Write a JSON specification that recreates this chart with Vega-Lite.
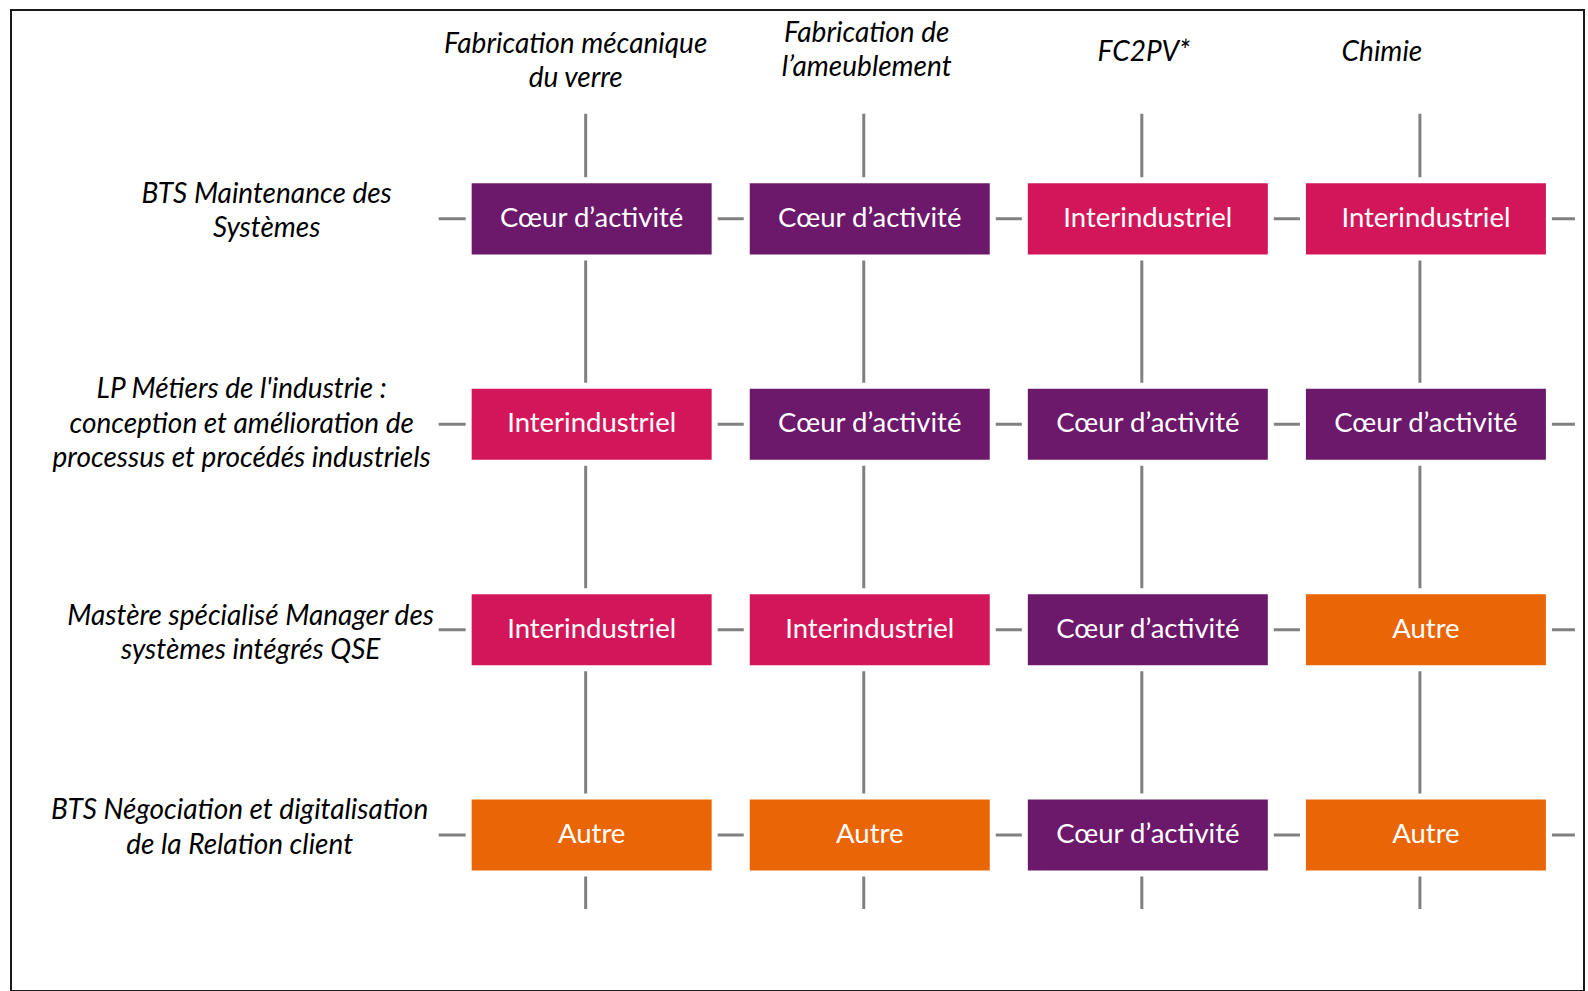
{
  "$schema": "https://vega.github.io/schema/vega-lite/v6.json",
  "width": 1573,
  "height": 981,
  "autosize": {"type": "none"},
  "padding": {"left": 11, "top": 10, "right": 4, "bottom": 0},
  "background": "white",
  "config": {
    "view": {"stroke": "#1a1a1a", "strokeWidth": 2},
    "axis": {"disable": true},
    "text": {"font": "Lato"}
  },
  "datasets": {
    "cells": [
      {"formation": "BTS Maintenance des\nSystèmes", "secteur": "Fabrication mécanique\ndu verre", "categorie": "Cœur d’activité"},
      {"formation": "BTS Maintenance des\nSystèmes", "secteur": "Fabrication de\nl’ameublement", "categorie": "Cœur d’activité"},
      {"formation": "BTS Maintenance des\nSystèmes", "secteur": "FC2PV*", "categorie": "Interindustriel"},
      {"formation": "BTS Maintenance des\nSystèmes", "secteur": "Chimie", "categorie": "Interindustriel"},
      {"formation": "LP Métiers de l'industrie :\nconception et amélioration de\nprocessus et procédés industriels", "secteur": "Fabrication mécanique\ndu verre", "categorie": "Interindustriel"},
      {"formation": "LP Métiers de l'industrie :\nconception et amélioration de\nprocessus et procédés industriels", "secteur": "Fabrication de\nl’ameublement", "categorie": "Cœur d’activité"},
      {"formation": "LP Métiers de l'industrie :\nconception et amélioration de\nprocessus et procédés industriels", "secteur": "FC2PV*", "categorie": "Cœur d’activité"},
      {"formation": "LP Métiers de l'industrie :\nconception et amélioration de\nprocessus et procédés industriels", "secteur": "Chimie", "categorie": "Cœur d’activité"},
      {"formation": "Mastère spécialisé Manager des\nsystèmes intégrés QSE", "secteur": "Fabrication mécanique\ndu verre", "categorie": "Interindustriel"},
      {"formation": "Mastère spécialisé Manager des\nsystèmes intégrés QSE", "secteur": "Fabrication de\nl’ameublement", "categorie": "Interindustriel"},
      {"formation": "Mastère spécialisé Manager des\nsystèmes intégrés QSE", "secteur": "FC2PV*", "categorie": "Cœur d’activité"},
      {"formation": "Mastère spécialisé Manager des\nsystèmes intégrés QSE", "secteur": "Chimie", "categorie": "Autre"},
      {"formation": "BTS Négociation et digitalisation\nde la Relation client", "secteur": "Fabrication mécanique\ndu verre", "categorie": "Autre"},
      {"formation": "BTS Négociation et digitalisation\nde la Relation client", "secteur": "Fabrication de\nl’ameublement", "categorie": "Autre"},
      {"formation": "BTS Négociation et digitalisation\nde la Relation client", "secteur": "FC2PV*", "categorie": "Cœur d’activité"},
      {"formation": "BTS Négociation et digitalisation\nde la Relation client", "secteur": "Chimie", "categorie": "Autre"}
    ],
    "cols": [
      {"secteur": "Fabrication mécanique\ndu verre"},
      {"secteur": "Fabrication de\nl’ameublement"},
      {"secteur": "FC2PV*"},
      {"secteur": "Chimie"}
    ],
    "rows": [
      {"formation": "BTS Maintenance des\nSystèmes"},
      {"formation": "LP Métiers de l'industrie :\nconception et amélioration de\nprocessus et procédés industriels"},
      {"formation": "Mastère spécialisé Manager des\nsystèmes intégrés QSE"},
      {"formation": "BTS Négociation et digitalisation\nde la Relation client"}
    ]
  },
  "layer": [
    {
      "data": {"name": "cols"},
      "mark": {"type": "rule", "color": "#808080", "strokeWidth": 3, "yOffset": -105, "y2Offset": 74},
      "encoding": {
        "x": {"field": "secteur", "type": "nominal", "axis": null,
          "scale": {"domain": ["Fabrication mécanique\ndu verre", "Fabrication de\nl’ameublement", "FC2PV*", "Chimie"], "paddingInner": 0.1154, "paddingOuter": 0.886, "align": 0.9166}},
        "y": {"datum": "BTS Maintenance des\nSystèmes", "type": "nominal", "axis": null,
          "scale": {"domain": ["BTS Maintenance des\nSystèmes", "LP Métiers de l'industrie :\nconception et amélioration de\nprocessus et procédés industriels", "Mastère spécialisé Manager des\nsystèmes intégrés QSE", "BTS Négociation et digitalisation\nde la Relation client"], "paddingInner": 0.625, "paddingOuter": 0.7005, "align": 0.592}},
        "y2": {"datum": "BTS Négociation et digitalisation\nde la Relation client"}
      }
    },
    {
      "data": {"name": "rows"},
      "mark": {"type": "rule", "color": "#808080", "strokeWidth": 3, "xOffset": -147, "x2Offset": 155},
      "encoding": {
        "y": {"field": "formation", "type": "nominal", "axis": null},
        "x": {"datum": "Fabrication mécanique\ndu verre", "type": "nominal", "axis": null},
        "x2": {"datum": "Chimie"}
      }
    },
    {
      "data": {"name": "cells"},
      "mark": {"type": "rect", "stroke": "white", "strokeWidth": 6, "xOffset": 6, "x2Offset": 6},
      "encoding": {
        "x": {"field": "secteur", "type": "nominal", "axis": null},
        "y": {"field": "formation", "type": "nominal", "axis": null},
        "color": {"field": "categorie", "type": "nominal", "legend": null,
          "scale": {"domain": ["Cœur d’activité", "Interindustriel", "Autre"], "range": ["#6C186B", "#D31659", "#EA6506"]}}
      }
    },
    {
      "data": {"name": "cells"},
      "mark": {"type": "text", "color": "white", "fontSize": 27.5, "baseline": "middle", "align": "center", "dx": 6},
      "encoding": {
        "x": {"field": "secteur", "type": "nominal", "axis": null},
        "y": {"field": "formation", "type": "nominal", "axis": null},
        "text": {"field": "categorie"}
      }
    },
    {
      "data": {"values": [{"secteur": "Fabrication mécanique\ndu verre"}]},
      "mark": {"type": "text", "color": "black", "fontSize": 28, "fontStyle": "italic", "baseline": "middle", "align": "center", "lineBreak": "\n", "lineHeight": 34.5, "dy": -174, "dx": -10},
      "encoding": {
        "x": {"field": "secteur", "type": "nominal", "axis": null},
        "y": {"datum": "BTS Maintenance des\nSystèmes", "type": "nominal", "axis": null},
        "text": {"field": "secteur"}
      }
    },
    {
      "data": {"values": [{"secteur": "Fabrication de\nl’ameublement"}]},
      "mark": {"type": "text", "color": "black", "fontSize": 28, "fontStyle": "italic", "baseline": "middle", "align": "center", "lineBreak": "\n", "lineHeight": 34.5, "dy": -185, "dx": 3},
      "encoding": {
        "x": {"field": "secteur", "type": "nominal", "axis": null},
        "y": {"datum": "BTS Maintenance des\nSystèmes", "type": "nominal", "axis": null},
        "text": {"field": "secteur"}
      }
    },
    {
      "data": {"values": [{"secteur": "FC2PV*"}]},
      "mark": {"type": "text", "color": "black", "fontSize": 28, "fontStyle": "italic", "baseline": "middle", "align": "center", "dy": -166, "dx": 2},
      "encoding": {
        "x": {"field": "secteur", "type": "nominal", "axis": null},
        "y": {"datum": "BTS Maintenance des\nSystèmes", "type": "nominal", "axis": null},
        "text": {"field": "secteur"}
      }
    },
    {
      "data": {"values": [{"secteur": "Chimie"}]},
      "mark": {"type": "text", "color": "black", "fontSize": 28, "fontStyle": "italic", "baseline": "middle", "align": "center", "dy": -166, "dx": -38},
      "encoding": {
        "x": {"field": "secteur", "type": "nominal", "axis": null},
        "y": {"datum": "BTS Maintenance des\nSystèmes", "type": "nominal", "axis": null},
        "text": {"field": "secteur"}
      }
    },
    {
      "data": {"values": [{"formation": "BTS Maintenance des\nSystèmes"}]},
      "mark": {"type": "text", "color": "black", "fontSize": 28, "fontStyle": "italic", "baseline": "middle", "align": "center", "lineBreak": "\n", "lineHeight": 34.5, "dx": -319, "dy": -24},
      "encoding": {
        "y": {"field": "formation", "type": "nominal", "axis": null},
        "x": {"datum": "Fabrication mécanique\ndu verre", "type": "nominal", "axis": null},
        "text": {"field": "formation"}
      }
    },
    {
      "data": {"values": [{"formation": "LP Métiers de l'industrie :\nconception et amélioration de\nprocessus et procédés industriels"}]},
      "mark": {"type": "text", "color": "black", "fontSize": 28, "fontStyle": "italic", "baseline": "middle", "align": "center", "lineBreak": "\n", "lineHeight": 34.5, "dx": -344, "dy": -34},
      "encoding": {
        "y": {"field": "formation", "type": "nominal", "axis": null},
        "x": {"datum": "Fabrication mécanique\ndu verre", "type": "nominal", "axis": null},
        "text": {"field": "formation"}
      }
    },
    {
      "data": {"values": [{"formation": "Mastère spécialisé Manager des\nsystèmes intégrés QSE"}]},
      "mark": {"type": "text", "color": "black", "fontSize": 28, "fontStyle": "italic", "baseline": "middle", "align": "center", "lineBreak": "\n", "lineHeight": 34.5, "dx": -335, "dy": -13},
      "encoding": {
        "y": {"field": "formation", "type": "nominal", "axis": null},
        "x": {"datum": "Fabrication mécanique\ndu verre", "type": "nominal", "axis": null},
        "text": {"field": "formation"}
      }
    },
    {
      "data": {"values": [{"formation": "BTS Négociation et digitalisation\nde la Relation client"}]},
      "mark": {"type": "text", "color": "black", "fontSize": 28, "fontStyle": "italic", "baseline": "middle", "align": "center", "lineBreak": "\n", "lineHeight": 34.5, "dx": -346, "dy": -24},
      "encoding": {
        "y": {"field": "formation", "type": "nominal", "axis": null},
        "x": {"datum": "Fabrication mécanique\ndu verre", "type": "nominal", "axis": null},
        "text": {"field": "formation"}
      }
    }
  ]
}
